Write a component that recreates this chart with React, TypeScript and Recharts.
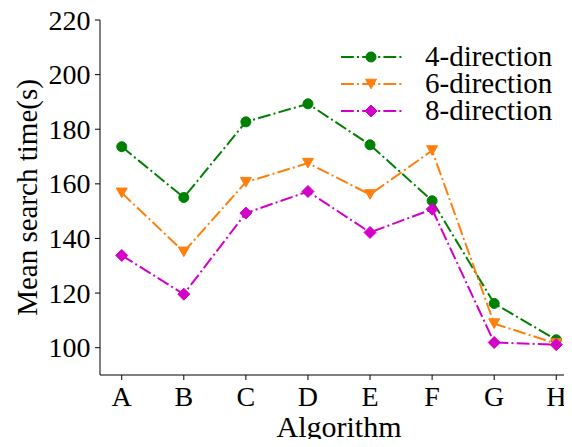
import React from 'react';
import { LineChart, Line, XAxis, YAxis, Legend, Label } from 'recharts';

const categories = ['A', 'B', 'C', 'D', 'E', 'F', 'G', 'H'];
const dir4 = [173.6, 155.0, 182.7, 189.3, 174.3, 153.8, 116.2, 102.9];
const dir6 = [156.7, 135.1, 160.6, 167.6, 156.1, 172.2, 108.8, 101.5];
const dir8 = [133.8, 119.6, 149.3, 157.2, 142.2, 150.7, 101.9, 101.1];
const yTicks = [100, 120, 140, 160, 180, 200, 220];

const data = categories.map((c, i) => ({ x: i, name: c, d4: dir4[i], d6: dir6[i], d8: dir8[i] }));

const FONT = '"Liberation Serif", "Times New Roman", serif';
const GREEN = '#008000';
const ORANGE = '#ff7f0e';
const MAGENTA = '#d400c8';
const DASH = '12.8 3.2 2 3.2';

const series = [
  { key: 'd4', label: '4-direction', color: GREEN, marker: 'circle' },
  { key: 'd6', label: '6-direction', color: ORANGE, marker: 'tri' },
  { key: 'd8', label: '8-direction', color: MAGENTA, marker: 'diamond' },
];

function Marker({ cx, cy, kind, color }: { cx: number; cy: number; kind: string; color: string }) {
  if (kind === 'circle') return <circle cx={cx} cy={cy} r={5} fill={color} stroke={color} />;
  if (kind === 'tri')
    return (
      <polygon
        points={`${cx - 5.5},${cy - 4.8} ${cx + 5.5},${cy - 4.8} ${cx},${cy + 4.8}`}
        fill={color}
        stroke={color}
      />
    );
  return (
    <polygon
      points={`${cx},${cy - 6} ${cx + 6},${cy} ${cx},${cy + 6} ${cx - 6},${cy}`}
      fill={color}
      stroke={color}
    />
  );
}

const makeDot = (kind: string, color: string) => (props: any) => {
  const { cx, cy, index } = props;
  if (cx == null || cy == null) return <g key={`e${index}`} />;
  return <Marker key={`m${kind}${index}`} cx={cx} cy={cy} kind={kind} color={color} />;
};

function LegendContent() {
  return (
    <div style={{ fontFamily: FONT }}>
      {series.map((s) => (
        <div key={s.key} style={{ display: 'flex', alignItems: 'center', height: 27 }}>
          <svg width={61} height={20} style={{ display: 'block' }}>
            <line x1={0} y1={10} x2={61} y2={10} stroke={s.color} strokeWidth={2} strokeDasharray={DASH} />
            <Marker cx={30} cy={10} kind={s.marker} color={s.color} />
          </svg>
          <span style={{ marginLeft: 23, fontSize: 29, lineHeight: '27px', color: '#000', whiteSpace: 'nowrap' }}>
            {s.label}
          </span>
        </div>
      ))}
    </div>
  );
}

function XTick(props: any) {
  const { x, y, payload } = props;
  return (
    <text x={x} y={y + 25.5} textAnchor="middle" fontFamily={FONT} fontSize={28} fill="#000">
      {categories[payload.value]}
    </text>
  );
}

function YTick(props: any) {
  const { x, y, payload } = props;
  return (
    <text x={x - 4.5} y={y + 9.5} textAnchor="end" fontFamily={FONT} fontSize={28} fill="#000">
      {payload.value}
    </text>
  );
}

function YLabel(props: any) {
  const vb = props.viewBox || {};
  const cy = vb.y + vb.height / 2;
  const x = 37;
  return (
    <text
      x={x}
      y={cy}
      transform={`rotate(-90 ${x} ${cy})`}
      textAnchor="middle"
      fontFamily={FONT}
      fontSize={29}
      fill="#000"
    >
      Mean search time(s)
    </text>
  );
}

function XLabel(props: any) {
  const vb = props.viewBox || {};
  const cx = vb.x + vb.width / 2;
  return (
    <text x={cx} y={437} textAnchor="middle" fontFamily={FONT} fontSize={30} fill="#000">
      Algorithm
    </text>
  );
}

export default function App() {
  return (
    <div style={{ margin: -8, width: 572, height: 447, overflow: 'hidden', position: 'relative', background: '#fff' }}>
      <LineChart width={578} height={447} data={data} margin={{ top: 20, right: 0, bottom: 0, left: 0 }}>
        <XAxis
          dataKey="x"
          type="number"
          domain={[-0.35, 7.35]}
          ticks={[0, 1, 2, 3, 4, 5, 6, 7]}
          height={72}
          tickSize={5}
          tickMargin={0}
          stroke="#000"
          tickLine={{ stroke: '#000' }}
          tick={<XTick />}
          interval={0}
        >
          <Label content={XLabel} />
        </XAxis>
        <YAxis
          type="number"
          domain={[90, 220]}
          ticks={yTicks}
          width={100}
          tickSize={5}
          tickMargin={0}
          stroke="#000"
          tickLine={{ stroke: '#000' }}
          tick={<YTick />}
          interval={0}
        >
          <Label content={YLabel} />
        </YAxis>
        <Legend
          layout="vertical"
          align="center"
          verticalAlign="middle"
          content={LegendContent}
          wrapperStyle={{ position: 'absolute', top: 43, left: 341, width: 230, margin: 0 }}
        />
        {series.map((s) => (
          <Line
            key={s.key}
            dataKey={s.key}
            name={s.label}
            stroke={s.color}
            strokeWidth={2}
            strokeDasharray={DASH}
            dot={makeDot(s.marker, s.color)}
            activeDot={false}
            isAnimationActive={false}
          />
        ))}
      </LineChart>
    </div>
  );
}
